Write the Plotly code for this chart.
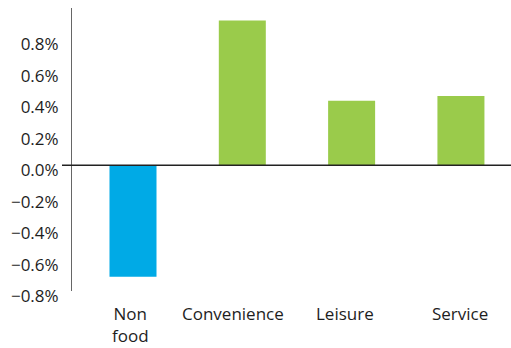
import plotly.graph_objects as go

# Category labels and growth values (as fractions, shown as %)
categories = ["Non<br>food", "Convenience", "Leisure", "Service"]
values = [-0.0071, 0.0092, 0.0041, 0.0044]
tick_values = [-0.008, -0.006, -0.004, -0.002, 0.0, 0.002, 0.004, 0.006, 0.008]

BLUE = "#00AAE6"
GREEN = "#9ACB4B"
bar_colors = [BLUE if v < 0 else GREEN for v in values]

FONT = "Open Sans"
TEXT = "#1E1E1E"
positions = list(range(len(categories)))
# small horizontal nudges for the category labels (px)
label_nudge = [-3, -9, -7, -1]

fig = go.Figure(
    go.Bar(
        x=positions,
        y=values,
        width=0.43,
        marker=dict(color=bar_colors, line=dict(width=0)),
        hoverinfo="skip",
    )
)

annotations = [
    dict(
        x=p,
        xref="x",
        y=0,
        yref="paper",
        yanchor="top",
        xanchor="center",
        yshift=-10,
        xshift=dx,
        text=c,
        showarrow=False,
        align="center",
        borderpad=0,
        font=dict(family=FONT, size=17, color=TEXT),
    )
    for p, c, dx in zip(positions, categories, label_nudge)
]

fig.update_layout(
    width=511,
    height=348,
    margin=dict(l=72, r=0, t=8, b=57),
    paper_bgcolor="white",
    plot_bgcolor="white",
    showlegend=False,
    font=dict(family=FONT, size=17, color=TEXT),
    xaxis=dict(
        range=[-0.558, 3.458],
        showticklabels=False,
        showgrid=False,
        zeroline=False,
        showline=False,
        ticks="",
    ),
    yaxis=dict(
        range=[-0.008, 0.010],
        tickvals=tick_values,
        tickformat=".1%",
        showgrid=False,
        zeroline=False,
        showline=True,
        linecolor="#666666",
        linewidth=1,
        ticks="",
        ticklabelstandoff=9,
        ticklabelshift=5,
        tickfont=dict(family=FONT, size=17, color=TEXT),
    ),
    annotations=annotations,
    shapes=[
        # baseline at 0%, extending slightly left of the value axis
        dict(
            type="line",
            xref="paper",
            yref="y",
            x0=-10 / 439,
            x1=1,
            y0=0,
            y1=0,
            line=dict(color="#222222", width=1.5),
            layer="above",
        )
    ],
)

fig.write_html("out.html")
